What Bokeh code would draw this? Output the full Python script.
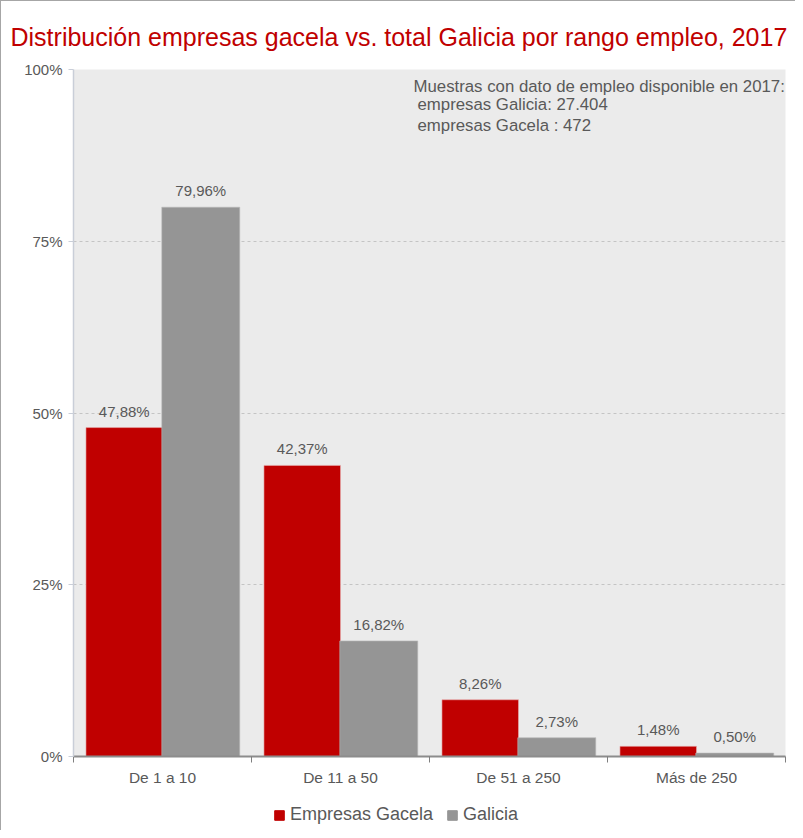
from bokeh.plotting import figure
from bokeh.layouts import column
from bokeh.models import Range1d, FixedTicker, Legend, LegendItem, Label, ColumnDataSource
from bokeh.embed import file_html
from bokeh.resources import INLINE

categories = ["De 1 a 10", "De 11 a 50", "De 51 a 250", "Más de 250"]
gacela = [47.88, 42.37, 8.26, 1.48]
galicia = [79.96, 16.82, 2.73, 0.50]
y_ticks = [0, 25, 50, 75, 100]
series_names = ["Empresas Gacela", "Galicia"]
note_lines = ["Muestras con dato de empleo disponible en 2017:",
              "empresas Galicia: 27.404",
              "empresas Gacela : 472"]
title_text = "Distribución empresas gacela vs. total Galicia por rango empleo, 2017"

RED = "#C00000"
GRAY = "#959595"
TXT = "#595959"
FONT = "Liberation Sans"


def fmt(v):
    return f"{v:.2f}".replace(".", ",") + "%"


idx = list(range(len(categories)))
src_a = ColumnDataSource(dict(x=[i + 0.285 for i in idx], top=gacela, lab=[fmt(v) for v in gacela]))
src_b = ColumnDataSource(dict(x=[i + 0.715 for i in idx], top=galicia, lab=[fmt(v) for v in galicia]))

p = figure(width=794, height=795, x_range=Range1d(0, len(categories)), y_range=Range1d(0, 100),
           output_backend="svg", toolbar_location=None,
           min_border_left=72, min_border_right=10, min_border_bottom=40, min_border_top=68)
p.background_fill_color = "#EBEBEB"
p.border_fill_color = "white"
p.outline_line_color = None

p.title.text = title_text
p.title.text_color = RED
p.title.text_font = FONT
p.title.text_font_size = "25px"
p.title.text_font_style = "normal"
p.title.align = "left"
p.title.offset = -63
p.title.standoff = 38

p.xgrid.visible = False
p.ygrid.ticker = FixedTicker(ticks=y_ticks)
p.ygrid.grid_line_color = "#C4C4C4"
p.ygrid.grid_line_dash = "3 3"

ya = p.yaxis[0]
ya.ticker = FixedTicker(ticks=y_ticks)
ya.major_label_overrides = {t: f"{t}%" for t in y_ticks}
ya.axis_line_color = "#C9CED8"
ya.axis_line_width = 1.5
ya.major_tick_line_color = "#C9CED8"
ya.major_tick_out = 5
ya.major_tick_in = 0
ya.minor_tick_line_color = None
ya.major_label_text_font = FONT
ya.major_label_text_font_size = "15px"
ya.major_label_text_color = TXT
ya.major_label_standoff = 6

xa = p.xaxis[0]
xa.ticker = FixedTicker(ticks=[i + 0.5 for i in idx], minor_ticks=list(range(len(categories) + 1)))
xa.major_label_overrides = {i + 0.5: c for i, c in enumerate(categories)}
xa.major_tick_line_color = None
xa.minor_tick_line_color = "#7F7F7F"
xa.minor_tick_out = 6
xa.minor_tick_in = 0
xa.axis_line_color = "#8C8C8C"
xa.axis_line_width = 2
xa.major_label_text_font = FONT
xa.major_label_text_font_size = "15.5px"
xa.major_label_text_color = TXT
xa.major_label_standoff = 6

p.vbar(x="x", top="top", width=0.43, source=src_a, color=RED, line_color="#E8B0B0", line_width=0.6)
p.vbar(x="x", top="top", width=0.438, source=src_b, color=GRAY, line_color="#B8B8B8", line_width=0.6)

for s in (src_a, src_b):
    p.text(x="x", y="top", text="lab", source=s, text_align="center", text_baseline="bottom",
           y_offset=-8, text_color=TXT, text_font_size="15px", text_font={"value": FONT})

note_x = [(413 - 73) / 178, (417 - 73) / 178, (417 - 73) / 178]
note_y = [97.5, 94.9, 91.85]
for line, xv, yv in zip(note_lines, note_x, note_y):
    p.add_layout(Label(x=xv, y=yv, text=line, text_baseline="middle",
                       text_color=TXT, text_font=FONT, text_font_size="16.8px"))

# legend strip below the chart (its frame is aligned with the chart's frame)
lg = figure(width=794, height=34, x_range=Range1d(0, 1), y_range=Range1d(0, 1),
            output_backend="svg", toolbar_location=None,
            min_border_left=0, min_border_right=0, min_border_top=0, min_border_bottom=0)
lg.axis.visible = False
lg.grid.visible = False
lg.outline_line_color = None
lg.background_fill_color = "white"
offscreen = ColumnDataSource(dict(x=[-5], top=[0]))
la = lg.vbar(x="x", top="top", width=0.1, source=offscreen, color=RED)
lb = lg.vbar(x="x", top="top", width=0.1, source=offscreen, color=GRAY)
legend = Legend(items=[LegendItem(label=series_names[0], renderers=[la]),
                       LegendItem(label=series_names[1], renderers=[lb])],
                orientation="horizontal", location=(200, 5),
                glyph_width=12, glyph_height=12, label_standoff=5, spacing=13,
                padding=0, margin=0, border_line_color=None, background_fill_alpha=0,
                label_text_font=FONT, label_text_font_size="18px", label_text_color=TXT)
lg.add_layout(legend, "center")

page = column(p, lg, spacing=0,
              styles={"border-top": "1px solid #A6A6A6", "border-left": "1px solid #A6A6A6"})

open("out.html", "w").write(file_html(page, INLINE))
